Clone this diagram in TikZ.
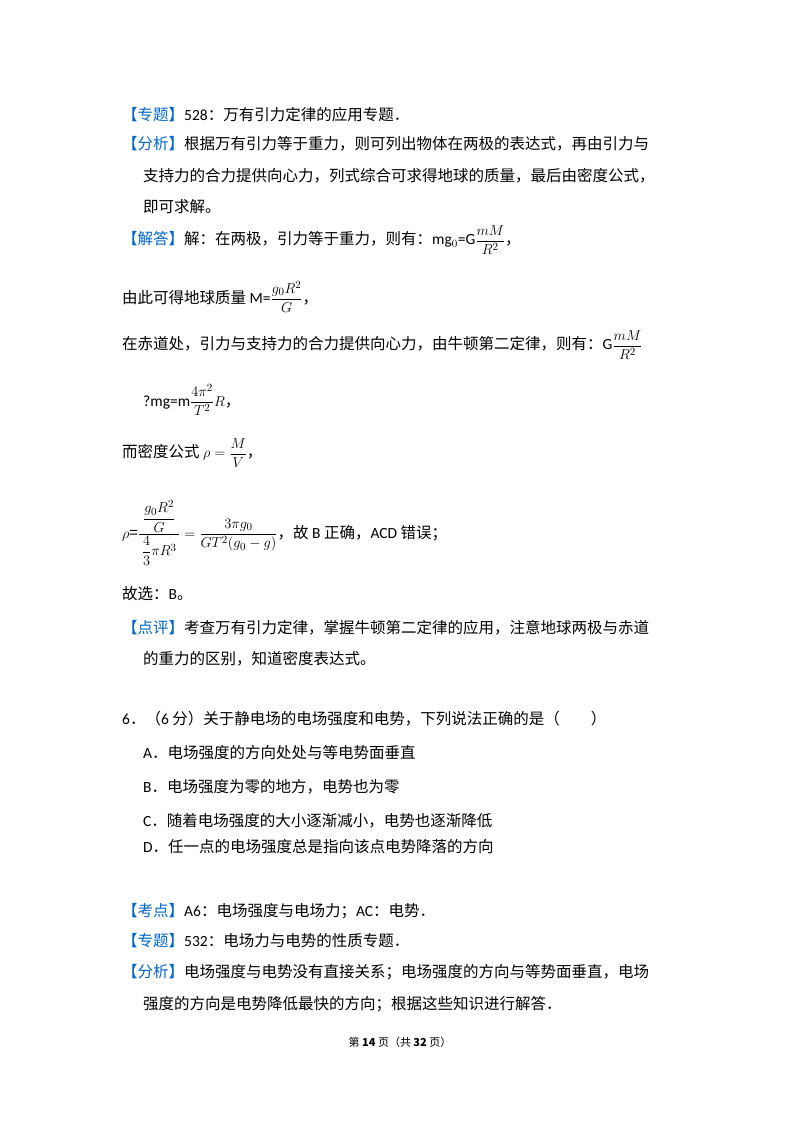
\documentclass[tikz,border=0pt]{standalone}
\usepackage{amsmath}
\usepackage{fontspec}
\setmainfont{Noto Sans CJK SC}
\newfontfamily\lat{Carlito}
\definecolor{lblue}{RGB}{0,102,204}
\begin{document}
\begin{tikzpicture}[x=1pt,y=-1pt,
  t/.style={anchor=west,inner sep=0pt,font=\fontsize{15.5}{18}\selectfont}]
\useasboundingbox[fill=white] (0,0) rectangle (800,1132);
\node[t] (l1) at (122,115) {\textcolor{lblue}{【专题】}{\lat 528}：万有引力定律的应用专题．};
\node[t] (l2) at (122,144) {\textcolor{lblue}{【分析】}根据万有引力等于重力，则可列出物体在两极的表达式，再由引力与};
\node[t] (l3) at (143,176) {支持力的合力提供向心力，列式综合可求得地球的质量，最后由密度公式，};
\node[t] (l4) at (143,207) {即可求解。};
\node[t] (l5) at (122,240) {\textcolor{lblue}{【解答】}解：在两极，引力等于重力，则有：{\lat mg$_0$=G}$\dfrac{mM}{R^2}$，};
\node[t] (l6) at (122,297) {由此可得地球质量 {\lat M=}$\dfrac{g_0R^2}{G}$，};
\node[t] (l7) at (122,345) {在赤道处，引力与支持力的合力提供向心力，由牛顿第二定律，则有：{\lat G}$\dfrac{mM}{R^2}$};
\node[t] (l8) at (143,400) {{\lat ?mg=m}$\dfrac{4\pi^2}{T^2}R$，};
\node[t] (l9) at (122,453) {而密度公式 $\rho=\dfrac{M}{V}$，};
\node[t] (l10) at (122,533) {$\rho$={}$\dfrac{\;\dfrac{g_0R^2}{G}\;}{\dfrac{4}{3}\pi R^3}=\dfrac{3\pi g_0}{GT^2(g_0-g)}$，故 {\lat B} 正确，{\lat ACD} 错误；};
\node[t] (l11) at (122,594) {故选：{\lat B}。};
\node[t] (l12) at (122,628) {\textcolor{lblue}{【点评】}考查万有引力定律，掌握牛顿第二定律的应用，注意地球两极与赤道};
\node[t] (l13) at (143,659) {的重力的区别，知道密度表达式。};
\node[t] (q) at (122,719) {{\lat 6}．（{\lat 6} 分）关于静电场的电场强度和电势，下列说法正确的是（\hspace{2em}）};
\node[t] (qa) at (143,753) {{\lat A}．电场强度的方向处处与等电势面垂直};
\node[t] (qb) at (143,787) {{\lat B}．电场强度为零的地方，电势也为零};
\node[t] (qc) at (143,821) {{\lat C}．随着电场强度的大小逐渐减小，电势也逐渐降低};
\node[t] (qd) at (143,847) {{\lat D}．任一点的电场强度总是指向该点电势降落的方向};
\node[t] (k1) at (122,911) {\textcolor{lblue}{【考点】}{\lat A6}：电场强度与电场力；{\lat AC}：电势．};
\node[t] (k2) at (122,941) {\textcolor{lblue}{【专题】}{\lat 532}：电场力与电势的性质专题．};
\node[t] (k3) at (122,972) {\textcolor{lblue}{【分析】}电场强度与电势没有直接关系；电场强度的方向与等势面垂直，电场};
\node[t] (k4) at (143,1004) {强度的方向是电势降低最快的方向；根据这些知识进行解答．};
\node[inner sep=0pt,font=\fontsize{11}{13}\selectfont] (ft) at (400,1042) {第 \textbf{14} 页（共 \textbf{32} 页）};
\end{tikzpicture}
\end{document}
